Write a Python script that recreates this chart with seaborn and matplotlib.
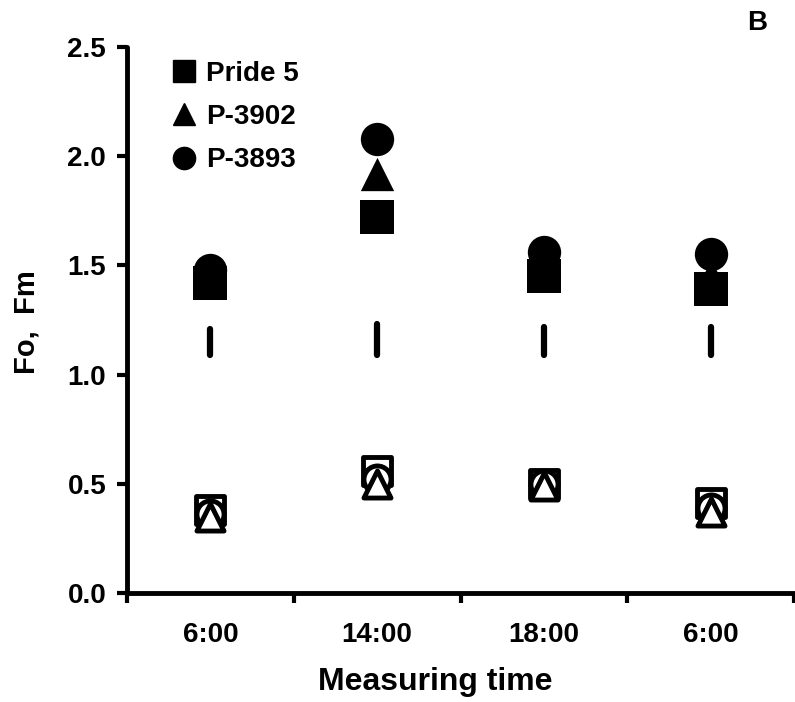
import numpy as np
import pandas as pd
import matplotlib
matplotlib.use("Agg")
import matplotlib.pyplot as plt
from matplotlib.lines import Line2D
import seaborn as sns

# ---------------- data ----------------
times = ["6:00", "14:00", "18:00", "6:00"]
genotypes = ["Pride 5", "P-3902", "P-3893"]
fm_pride5 = [1.42, 1.72, 1.45, 1.39]
fm_p3902 = [1.45, 1.92, 1.53, 1.45]
fm_p3893 = [1.48, 2.08, 1.56, 1.55]
fo_pride5 = [0.38, 0.56, 0.50, 0.41]
fo_p3902 = [0.35, 0.50, 0.49, 0.37]
fo_p3893 = [0.36, 0.52, 0.50, 0.39]
lsd_low = [1.09, 1.09, 1.09, 1.09]
lsd_high = [1.21, 1.23, 1.22, 1.22]

markers = {"Pride 5": "s", "P-3902": "^", "P-3893": "o"}
fm_vals = {"Pride 5": fm_pride5, "P-3902": fm_p3902, "P-3893": fm_p3893}
fo_vals = {"Pride 5": fo_pride5, "P-3902": fo_p3902, "P-3893": fo_p3893}

pos = np.arange(len(times)) + 0.5
rows = []
for g in genotypes:
    for i, t in enumerate(times):
        rows.append({"x": pos[i], "time": t, "genotype": g, "Fm": fm_vals[g][i], "Fo": fo_vals[g][i]})
df = pd.DataFrame(rows)

# ---------------- styling ----------------
sns.set_theme(style="ticks")
plt.rcParams["font.family"] = ["Liberation Sans", "DejaVu Sans"]
plt.rcParams["font.weight"] = "bold"
plt.rcParams["text.color"] = "black"
plt.rcParams["axes.labelcolor"] = "black"
plt.rcParams["xtick.color"] = "black"
plt.rcParams["ytick.color"] = "black"

fig = plt.figure(figsize=(7.95, 7.02), dpi=100)
ax = fig.add_axes([127 / 795, 1 - 593 / 702, (794 - 127) / 795, (593 - 47) / 702])

# LSD bars
lsd = pd.DataFrame({"x": pos, "lo": lsd_low, "hi": lsd_high})
ax.vlines(lsd["x"], lsd["lo"], lsd["hi"], colors="black", linewidth=4.5, capstyle="round")

# open markers (Fo): square -> circle -> triangle
for g in ["Pride 5", "P-3893", "P-3902"]:
    sub = df[df["genotype"] == g]
    sns.scatterplot(data=sub, x="x", y="Fo", marker=markers[g], s=380,
                    facecolor="white", edgecolor="black", linewidth=3.5,
                    ax=ax, legend=False, zorder=3)

# filled markers (Fm): square -> triangle -> circle
handles = []
for g in ["Pride 5", "P-3902", "P-3893"]:
    sub = df[df["genotype"] == g]
    sns.scatterplot(data=sub, x="x", y="Fm", marker=markers[g], s=24 ** 2,
                    color="black", edgecolor="black", linewidth=0,
                    ax=ax, legend=False, zorder=4)
    handles.append(Line2D([], [], linestyle="none", marker=markers[g],
                          markersize=16, color="black", label=g))

ax.set_xlim(0, 4)
ax.set_ylim(0, 2.5)
ax.set_yticks(np.arange(0, 2.51, 0.5))
ax.set_yticklabels([f"{v:.1f}" for v in np.arange(0, 2.51, 0.5)])
ax.set_xticks(np.arange(0, 5))
ax.set_xticklabels([])
ax.set_xticks(pos, minor=True)
ax.set_xticklabels(times, minor=True)

for s in ["top", "right"]:
    ax.spines[s].set_visible(False)
for s in ["left", "bottom"]:
    ax.spines[s].set_linewidth(3.5)
    ax.spines[s].set_color("black")
    ax.spines[s].set_capstyle("round")

ax.tick_params(axis="y", which="major", direction="out", length=7, width=3,
               pad=8, labelsize=20, colors="black")
ax.tick_params(axis="x", which="major", direction="out", length=7, width=3,
               colors="black")
ax.tick_params(axis="x", which="minor", length=0, pad=21, labelsize=20,
               colors="black")
for lab in ax.get_xticklabels(minor=True) + ax.get_yticklabels():
    lab.set_fontweight("bold")
    lab.set_color("black")

ax.set_xlabel("Measuring time", fontsize=23, fontweight="bold", color="black")
ax.set_ylabel("Fo,  Fm", fontsize=21, fontweight="bold", color="black")
ax.xaxis.set_label_coords((435 - 127) / 667, -0.135)
ax.yaxis.set_label_coords((41 - 127) / 667, 0.497)

leg = ax.legend(handles=handles, loc="upper left", frameon=False,
                bbox_to_anchor=(170 / 795, 1 - 61 / 702),
                bbox_transform=fig.transFigure, borderaxespad=0, borderpad=0,
                handlelength=1.0, handletextpad=0.3, labelspacing=0.62,
                prop={"size": 20, "weight": "bold"})
for t in leg.get_texts():
    t.set_color("black")

fig.text(757 / 795, 1 - 23 / 702, "B", fontsize=20, fontweight="bold",
         ha="center", va="center", color="black")

fig.savefig("out.png", dpi=100)
